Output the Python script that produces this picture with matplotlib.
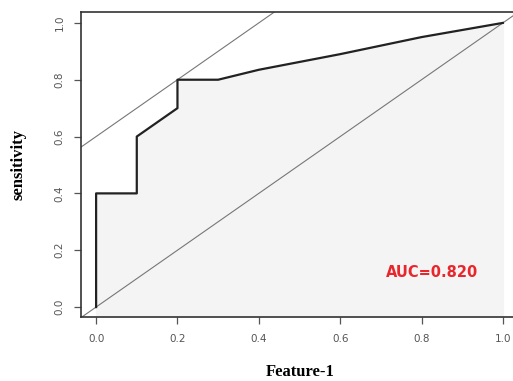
import matplotlib
matplotlib.use("Agg")
import matplotlib.pyplot as plt

# ROC curve points (1 - specificity, sensitivity)
fpr = [0.0, 0.0, 0.1, 0.1, 0.2, 0.2, 0.3, 0.4, 0.6, 0.8, 1.0]
tpr = [0.0, 0.4, 0.4, 0.6, 0.7, 0.8, 0.8, 0.835, 0.89, 0.95, 1.0]

x_ticks = [0.0, 0.2, 0.4, 0.6, 0.8, 1.0]
y_ticks = [0.0, 0.2, 0.4, 0.6, 0.8, 1.0]
auc_label = "AUC=0.820"
tangent_intercept = 0.6


def main():
    fig = plt.figure(figsize=(5.13, 3.81), dpi=100)
    ax = fig.add_axes([0.158, 0.168, 0.854, 0.801])

    ax.set_xlim(-0.037, 1.04)
    ax.set_ylim(-0.035, 1.039)

    ax.fill_between(fpr, tpr, -0.035, color="#f4f4f4", zorder=0)
    ax.plot(fpr, tpr, color="#222222", linewidth=1.6, zorder=3)

    diag = [-0.1, 1.2]
    ax.plot(diag, diag, color="#777777", linewidth=0.8, zorder=2)
    ax.plot(diag, [d + tangent_intercept for d in diag],
            color="#777777", linewidth=0.8, zorder=2)

    ax.text(0.826, 0.12, auc_label, color="#e8262b", fontsize=10.5,
            fontweight="bold", ha="center", va="center",
            family="DejaVu Sans")

    for side in ["left", "bottom", "top"]:
        ax.spines[side].set_color("#333333")
        ax.spines[side].set_linewidth(1.2)
    ax.spines["right"].set_visible(False)

    ax.set_xticks(x_ticks)
    ax.set_yticks(y_ticks)
    ax.set_xticklabels([f"{v:.1f}" for v in x_ticks])
    ax.set_yticklabels([f"{v:.1f}" for v in y_ticks], rotation=90,
                       va="center")
    ax.tick_params(axis="both", direction="out", length=5, width=0.9,
                   color="#555555", labelsize=7.5, labelcolor="#555555",
                   pad=7)

    ax.set_xlabel("Feature-1", family="Liberation Serif", fontweight="bold",
                  fontsize=12, labelpad=15)
    ax.set_ylabel("sensitivity", family="Liberation Serif", fontweight="bold",
                  fontsize=12, labelpad=20)

    fig.savefig("out.png", dpi=100)


if __name__ == "__main__":
    main()
